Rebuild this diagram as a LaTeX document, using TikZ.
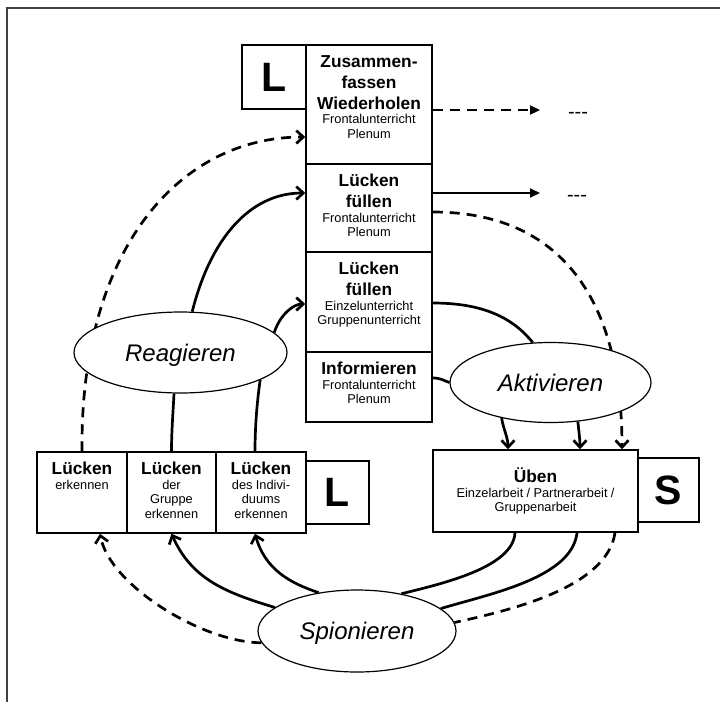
\documentclass[tikz,border=0pt]{standalone}
\usepackage{fontspec}
\setmainfont{Liberation Sans}
\usetikzlibrary{shapes.geometric,arrows.meta,backgrounds}
\setlength{\parindent}{0pt}
\newcommand\bigline{\fontsize{17.3}{21}\selectfont\bfseries}
\newcommand\smallline{\fontsize{12.8}{14.5}\selectfont}
\newcommand\ovaltext{\fontsize{24}{26}\selectfont\itshape}
\newcommand\rolefont{\fontsize{41}{41}\selectfont\bfseries}

\tikzset{
  box/.style={draw, line width=1.5pt, rectangle, inner sep=0pt},
  boxtext/.style={anchor=north, inner sep=0pt, text width=#1, align=center},
  oval/.style={ellipse, draw, line width=1.2pt, fill=white, inner sep=0pt,
    text depth=0pt, font=\ovaltext},
  solidline/.style={line width=2.7pt},
  dashline/.style={line width=2.7pt, dash pattern=on 10pt off 7pt},
  openhead/.style={-{Straight Barb[length=7pt,width=13pt]}},
  fullhead/.style={-{Triangle[length=10pt,width=9pt]}},
  moretext/.style={anchor=base, inner sep=0pt, font=\fontsize{20}{20}\selectfont}
}

\begin{document}
\begin{tikzpicture}[x=1pt,y=-1pt]
\useasboundingbox (0,0) rectangle (720,702);

% frame on top and left
\draw[line width=1.5pt, black!75] (7,702) -- (7,8) -- (720,8);

% teacher column
\node[box, minimum width=64pt, minimum height=64pt, font=\rolefont] (ltop) at (274,77) {L};
\node[box, minimum width=126pt, minimum height=119pt] (s1) at (369,104.5) {};
\node[box, minimum width=126pt, minimum height=88pt] (s2) at (369,208) {};
\node[box, minimum width=126pt, minimum height=100pt] (s3) at (369,302) {};
\node[box, minimum width=126pt, minimum height=70pt] (s4) at (369,387) {};

\node[boxtext=124pt] (t1) at ([yshift=-10.7pt]s1.north)
  {{\bigline Zusammen-\par fassen\par Wiederholen\par}{\smallline Frontalunterricht\par Plenum\par}};
\node[boxtext=124pt] (t2) at ([yshift=-10.7pt]s2.north)
  {{\bigline Lücken\par füllen\par}{\smallline Frontalunterricht\par Plenum\par}};
\node[boxtext=124pt] (t3) at ([yshift=-10.7pt]s3.north)
  {{\bigline Lücken\par füllen\par}{\smallline Einzelunterricht\par Gruppenunterricht\par}};
\node[boxtext=124pt] (t4) at ([yshift=-10.7pt]s4.north)
  {{\bigline Informieren\par}{\smallline Frontalunterricht\par Plenum\par}};

% diagnosis row
\node[box, minimum width=90pt, minimum height=81pt] (b1) at (82,492.5) {};
\node[box, minimum width=89pt, minimum height=81pt] (b2) at (171.5,492.5) {};
\node[box, minimum width=90pt, minimum height=81pt] (b3) at (261,492.5) {};
\node[box, minimum width=63pt, minimum height=63pt, font=\rolefont] (lleft) at (337.5,492.5) {L};

\node[boxtext=86pt] (bt1) at ([yshift=-10.7pt]b1.north)
  {{\bigline Lücken\par}{\smallline erkennen\par}};
\node[boxtext=86pt] (bt2) at ([yshift=-10.7pt]b2.north)
  {{\bigline Lücken\par}{\smallline der\par Gruppe\par erkennen\par}};
\node[boxtext=86pt] (bt3) at ([yshift=-10.7pt]b3.north)
  {{\bigline Lücken\par}{\smallline des Indivi-\par duums\par erkennen\par}};

% practice box
\node[box, minimum width=205pt, minimum height=82pt] (ueben) at (535.5,491) {};
\node[box, minimum width=61pt, minimum height=64pt, font=\rolefont] (sright) at (668.5,490) {S};
\node[inner sep=0pt, text width=200pt, align=center] (ut) at (ueben.center)
  {{\bigline Üben\par}{\smallline Einzelarbeit / Partnerarbeit /\par Gruppenarbeit\par}};

% ellipses
\node[oval, minimum width=213pt, minimum height=81pt] (reag) at (180.5,352.5) {Reagieren};
\node[oval, minimum width=201pt, minimum height=80pt] (akt) at (550.5,382.5) {Aktivieren};
\node[oval, minimum width=198pt, minimum height=82pt] (spion) at (357,631) {Spionieren};

% curves passing behind the ellipses
\begin{pgfonlayer}{background}
\draw[dashline, openhead] ([yshift=-4pt]s2.east) .. controls +(128,0) and +(0,-150) .. ([xshift=86.5pt]ueben.north);
\draw[dashline, openhead] (b1.north) .. controls +(-2,-202) and +(-126,0) .. ([yshift=-32.5pt]s1.west);
\end{pgfonlayer}

% continuation to the right
\coordinate (cont1) at (540,110);
\coordinate (cont2) at (540,193);
\draw[dashline, line width=2.2pt, fullhead] ([yshift=-5.5pt]s1.east) -- (cont1);
\draw[solidline, line width=2pt, fullhead] ([yshift=15pt]s2.east) -- (cont2);
\node[moretext] (more1) at (578,118) {-\kern0pt-\kern0pt-};
\node[moretext] (more2) at (577,201) {-\kern0pt-\kern0pt-};

% Aktivieren
\draw[solidline] ([yshift=-1pt]s3.east) .. controls +(50,0) and +(-20,-25) .. (akt.114);
\draw[solidline] ([yshift=9pt]s4.east) .. controls +(8,0) and +(-6,-2) .. (akt.west);
\draw[solidline, openhead] (akt.216) .. controls +(2,12) and +(0,-12) .. ([xshift=-27.5pt]ueben.north);
\draw[solidline, openhead] (akt.305) .. controls +(1,10) and +(0,-10) .. ([xshift=44.5pt]ueben.north);

% Reagieren
\draw[solidline, openhead] (reag.74) .. controls +(18,-72) and +(-56,0) .. ([yshift=15pt]s2.west);
\draw[solidline, openhead] (reag.12) .. controls +(6,-18) and +(-12,0) .. ([yshift=-2pt]s3.west);
\draw[solidline] (reag.261) .. controls +(-1,20) and +(0,-20) .. (b2.north);
\draw[solidline] (reag.341) .. controls +(-3,20) and +(0,-25) .. ([xshift=-6pt]b3.north);

% Spionieren
\draw[dashline, openhead] (spion.187) .. controls +(-58,0) and +(10,52) .. ([xshift=18pt]b1.south);
\draw[solidline, openhead] (spion.164) .. controls +(-50,-15) and +(20,45) .. (b2.south);
\draw[solidline, openhead] (spion.135) .. controls +(-30,-10) and +(10,35) .. ([xshift=-6pt]b3.south);
\draw[solidline] ([xshift=-20.5pt]ueben.south) .. controls +(-2,35) and +(40,-10) .. (spion.40);
\draw[solidline] ([xshift=41.5pt]ueben.south) .. controls +(-5,45) and +(50,-15) .. (spion.15);
\draw[dashline] ([xshift=79.5pt]ueben.south) .. controls +(-8,55) and +(55,-12) .. (spion.5);
\end{tikzpicture}
\end{document}
